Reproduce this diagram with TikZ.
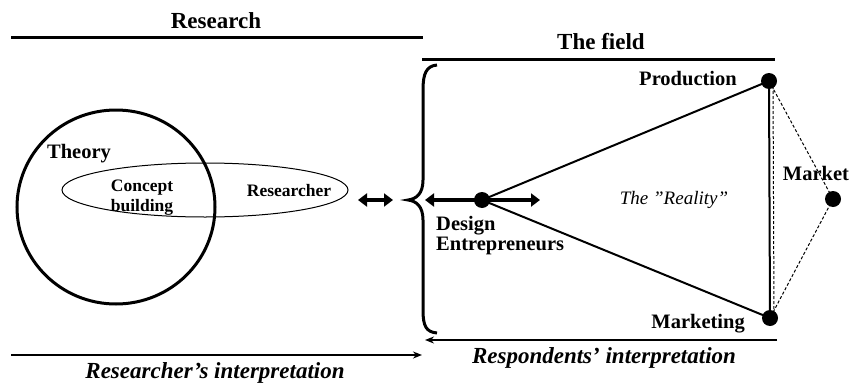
\documentclass[tikz,border=0pt]{standalone}
\usepackage{fontspec}
\setmainfont{Liberation Serif}
\usetikzlibrary{arrows.meta,positioning}
\tikzset{
  head/.style={font=\fontsize{23}{25}\selectfont\bfseries, inner sep=0pt, anchor=base},
  lbl/.style={font=\fontsize{20.5}{20}\selectfont\bfseries, inner sep=0pt, anchor=base, align=left},
  small/.style={font=\fontsize{17.5}{20}\selectfont\bfseries, inner sep=0pt, anchor=base, align=center},
  interp/.style={font=\fontsize{23}{25}\selectfont\bfseries\itshape, inner sep=0pt, anchor=base},
  dot/.style={circle, fill=black, inner sep=0pt, minimum size=16pt},
  rule/.style={line width=3pt},
  tie/.style={line width=2pt},
  loose/.style={line width=1pt, dash pattern=on 3pt off 2pt},
  twoway/.style={line width=4.5pt, {Triangle[length=9pt,width=13pt]}-{Triangle[length=9pt,width=13pt]}},
  flow/.style={line width=1.6pt, -{Stealth[length=9pt,width=7pt]}},
}

\begin{document}
\begin{tikzpicture}[x=1pt, y=-1pt]
    \useasboundingbox (0,0) rectangle (851,388);

    % headings and their rules
    \node[head] (research) at (216,28) {Research};
    \coordinate (rs) at (11,37);
    \coordinate (re) at (423,37);
    \draw[rule] (rs) -- (re);
    \node[head] (field) at (601,49) {The field};
    \coordinate (fs) at (422,59);
    \coordinate (fe) at (775,59);
    \draw[rule] (fs) -- (fe);

    % research side
    \draw[line width=3pt] (116,207) ellipse [x radius=99, y radius=97];
    \draw[line width=1pt] (205,190) ellipse [x radius=143, y radius=27];
    \node[lbl] (theory) at (79,158) {Theory};
    \node[small] (concept) at (142,211) {Concept\\building};
    \node[small] (researcher) at (289,196) {Researcher};
    \coordinate (la) at (358,200);
    \coordinate (lb) at (393,200);
    \draw[twoway] (la) -- (lb);

    % the field
    \draw[line width=3pt] (437,65) .. controls (426,66) and (423,74) .. (423,90)
      -- (423,180) .. controls (423,194) and (416,199) .. (408,200)
      .. controls (416,201) and (423,206) .. (423,220)
      -- (423,310) .. controls (423,326) and (426,332) .. (437,333);
    \node[dot] (design) at (482,200) {};
    \node[dot] (prod) at (769,81) {};
    \node[dot] (mark) at (770,318) {};
    \node[dot] (market) at (833,199) {};
    \coordinate (dl) at (425,200);
    \coordinate (dr) at (540,200);
    \draw[twoway] (dl) -- (dr);
    \draw[tie] (design.center) -- (prod.center);
    \draw[tie] (design.center) -- (mark.center);
    \draw[tie] (prod.center) -- (mark.center);
    \draw[loose] ([xshift=4pt]prod.center) -- ([xshift=4pt]mark.center);
    \draw[loose] (prod.center) -- (market.center);
    \draw[loose] (market.center) -- (mark.center);
    \node[lbl, anchor=base east] (prodlbl) at (737,85) {Production};
    \node[lbl, anchor=base east] (marklbl) at (745,328) {Marketing};
    \node[lbl] (marketlbl) at (816,180) {Market};
    \node[lbl, anchor=base west] (designlbl) at (436,250) {Design\\Entrepreneurs};
    \node[font=\fontsize{19}{20}\selectfont\itshape, inner sep=0pt, anchor=base] (reality) at (674,204) {The ”Reality”};

    % interpretations
    \coordinate (ia) at (11,355);
    \coordinate (ib) at (422,355);
    \draw[flow] (ia) -- (ib);
    \node[interp] (rint) at (215,378) {Researcher’s interpretation};
    \coordinate (ic) at (777,340);
    \coordinate (id) at (425,340);
    \draw[flow] (ic) -- (id);
    \node[interp] (pint) at (604,363) {Respondents’ interpretation};
\end{tikzpicture}
\end{document}
